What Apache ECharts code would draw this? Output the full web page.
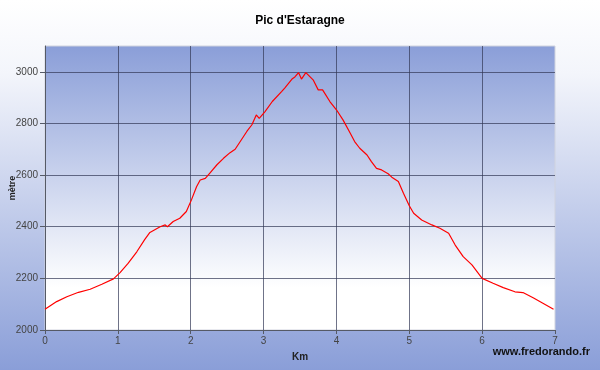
<!DOCTYPE html>
<html>
<head>
<meta charset="utf-8">
<script src="https://cdn.jsdelivr.net/npm/echarts@6/dist/echarts.min.js"></script>
<style>
  html, body { margin: 0; padding: 0; }
  #chart { width: 600px; height: 370px; }
</style>
</head>
<body>
<div id="chart"></div>
<script>
const km = [0, 0.16, 0.3, 0.46, 0.62, 0.78, 0.94, 1.03, 1.14, 1.26, 1.37, 1.44, 1.58, 1.65, 1.68, 1.76, 1.85, 1.94,
  2.01, 2.08, 2.13, 2.2, 2.26, 2.36, 2.45, 2.54, 2.61, 2.68, 2.77, 2.84, 2.9, 2.94, 3.02, 3.12, 3.25, 3.29, 3.39, 3.43,
  3.48, 3.52, 3.58, 3.68, 3.75, 3.81, 3.91, 4.0, 4.09, 4.19, 4.25, 4.32, 4.42, 4.48, 4.55, 4.62, 4.71, 4.76, 4.85,
  4.92, 5.0, 5.06, 5.17, 5.31, 5.42, 5.54, 5.63, 5.74, 5.86, 6.0, 6.15, 6.29, 6.45, 6.56, 6.7, 6.84, 6.98];
const alt = [2080, 2110, 2129, 2146, 2158, 2177, 2198, 2222, 2258, 2303, 2351, 2378, 2400, 2407, 2400, 2420, 2433, 2459,
  2504, 2555, 2581, 2587, 2607, 2640, 2665, 2687, 2700, 2730, 2769, 2795, 2833, 2820, 2846, 2885, 2924, 2937, 2972, 2980,
  2997, 2972, 2997, 2969, 2930, 2930, 2885, 2853, 2814, 2762, 2730, 2704, 2678, 2652, 2626, 2620, 2605, 2592, 2575,
  2530, 2481, 2452, 2426, 2407, 2394, 2375, 2329, 2284, 2252, 2200, 2181, 2164, 2148, 2145, 2125, 2103, 2080];
const yTicks = [2000, 3100, 200];
const xTicks = [0, 7, 1];

let chart = echarts.init(document.getElementById('chart'));
let points = km.map((k, i) => [k, alt[i]]);

const axisGrey = '#555a66';
const gridCol = 'rgba(50,56,85,0.7)';

let option = {
  animation: false,
  backgroundColor: {
    type: 'linear', x: 0, y: 0, x2: 0, y2: 1,
    colorStops: [
      { offset: 0, color: '#ffffff' },
      { offset: 0.2, color: '#f3f5fb' },
      { offset: 1, color: '#8a9ed8' }
    ]
  },
  title: {
    text: "Pic d'Estaragne",
    left: 'center',
    top: 10,
    textStyle: { fontFamily: 'Liberation Sans', fontSize: 12, fontWeight: 'bold', color: '#000' }
  },
  graphic: [{
    type: 'text',
    right: 10,
    top: 346,
    style: { text: 'www.fredorando.fr', font: 'bold 11px "Liberation Sans"', fill: '#111' }
  }],
  grid: {
    left: 45, right: 45, top: 46, bottom: 40,
    containLabel: false,
    outerBoundsMode: 'none',
    show: true,
    borderColor: '#d0d3de',
    borderWidth: 1,
    backgroundColor: {
      type: 'linear', x: 0, y: 0, x2: 0, y2: 1,
      colorStops: [
        { offset: 0, color: '#8a9ed8' },
        { offset: 0.85, color: '#ffffff' },
        { offset: 1, color: '#ffffff' }
      ]
    }
  },
  xAxis: {
    type: 'value',
    min: xTicks[0], max: xTicks[1], interval: xTicks[2],
    name: 'Km',
    nameLocation: 'middle',
    nameGap: 22,
    nameMoveOverlap: false,
    nameTextStyle: { fontFamily: 'Liberation Sans', fontSize: 10, fontWeight: 'bold', color: '#222' },
    axisLine: { lineStyle: { color: axisGrey } },
    axisTick: { length: 4, lineStyle: { color: axisGrey } },
    axisLabel: { fontFamily: 'Liberation Sans', fontSize: 10, color: '#444', margin: 6 },
    splitLine: { showMinLine: false, showMaxLine: false, lineStyle: { color: gridCol, width: 1 } }
  },
  yAxis: {
    type: 'value',
    min: yTicks[0], max: yTicks[1], interval: yTicks[2],
    name: 'mètre',
    nameLocation: 'middle',
    nameGap: 28,
    nameMoveOverlap: false,
    nameTextStyle: { fontFamily: 'Liberation Sans', fontSize: 9, fontWeight: 'bold', color: '#222' },
    axisLine: { show: true, lineStyle: { color: axisGrey } },
    axisTick: { show: true, length: 5, lineStyle: { color: axisGrey } },
    axisLabel: {
      fontFamily: 'Liberation Sans', fontSize: 10, color: '#444', margin: 7, showMaxLabel: false,
      formatter: v => String(v)
    },
    splitLine: { showMinLine: false, showMaxLine: false, lineStyle: { color: gridCol, width: 1 } }
  },
  series: [{
    type: 'line',
    data: points,
    color: '#ff0000',
    symbol: 'none',
    smooth: false,
    lineStyle: { width: 1.2, color: '#ff0000' }
  }]
};
chart.setOption(option);
</script>
</body>
</html>
